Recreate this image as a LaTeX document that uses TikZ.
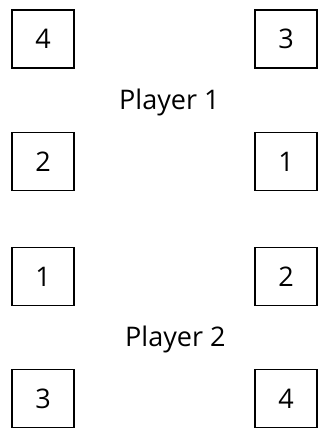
\documentclass[tikz,border=0pt]{standalone}
\usepackage{fontspec}
\setmainfont{Open Sans}
\usepackage{tikz}
\usetikzlibrary{positioning}

\begin{document}
\begin{tikzpicture}[x=1pt, y=-1pt,
    card/.style={draw, line width=1.4pt, minimum width=62pt, minimum height=58pt,
      inner sep=0pt, font=\fontsize{27}{30}\selectfont},
    label/.style={font=\fontsize{27}{30}\selectfont, inner sep=0pt, anchor=base west}]
  \useasboundingbox (0,0) rectangle (326,430);
  % Player 1 hand
  \node[card] (p1a) at (43,39) {4};
  \node[card] (p1b) at (286,39) {3};
  \node[card] (p1c) at (43,161.5) {2};
  \node[card] (p1d) at (286,161.5) {1};
  \node[label] (p1) at (119,110) {Player 1};
  % Player 2 hand
  \node[card] (p2a) at (43,276.5) {1};
  \node[card] (p2b) at (286,276.5) {2};
  \node[card] (p2c) at (43,398.5) {3};
  \node[card] (p2d) at (286,398.5) {4};
  \node[label] (p2) at (125,346) {Player 2};
\end{tikzpicture}
\end{document}
